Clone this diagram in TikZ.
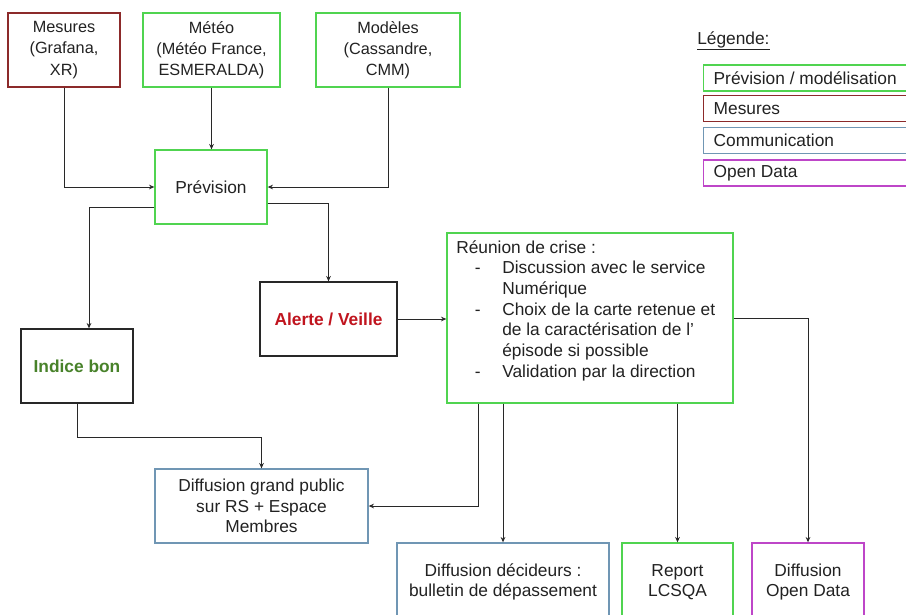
\documentclass[tikz,border=0pt]{standalone}
\usepackage{fontspec}
\setmainfont{Liberation Sans}
\usetikzlibrary{arrows.meta}
\definecolor{grn}{RGB}{80,212,80}
\definecolor{mesred}{RGB}{140,42,42}
\definecolor{comblue}{RGB}{112,150,180}
\definecolor{odpurple}{RGB}{190,70,200}
\definecolor{indgreen}{RGB}{72,130,42}
\definecolor{alred}{RGB}{192,20,30}
\definecolor{txt}{RGB}{34,34,34}
\definecolor{ln}{RGB}{40,40,40}
\newcommand\rli{\makebox[34.5pt][l]{\hspace*{14pt}-}}
\newcommand\rlc{\hspace*{34.5pt}}
\tikzset{
  box/.style={draw, line width=1pt, inner sep=0pt, align=center, text=txt,
    font=\fontsize{13}{15.5}\selectfont},
  topbox/.style={box, font=\fontsize{12.2}{15.9}\selectfont},
  legbox/.style={draw, line width=1pt, anchor=west, inner xsep=7.5pt,
    inner ysep=0pt, minimum height=19.5pt, text=txt,
    font=\fontsize{13}{15.5}\selectfont},
  arr/.style={draw=ln, line width=0.75pt, -{Stealth[length=4pt,width=3.5pt]}},
}
\begin{document}
\begin{tikzpicture}[x=0.75pt,y=-0.75pt]
\useasboundingbox (0,0) rectangle (906,614);
\fill[white] (0,0) rectangle (906,614);
\clip (0,0) rectangle (906,614);

% top boxes
\node[topbox, draw=mesred, minimum width=84pt, minimum height=55.5pt] (mes) at (64,50) {Mesures\\(Grafana,\\XR)};
\node[topbox, draw=grn, minimum width=102.75pt, minimum height=55.5pt] (met) at (211.5,50) {Météo\\(Météo France,\\ESMERALDA)};
\node[topbox, draw=grn, minimum width=108pt, minimum height=55.5pt] (mod) at (388,50) {Modèles\\(Cassandre,\\CMM)};

\node[box, draw=grn, minimum width=84pt, minimum height=55.5pt] (prev) at (211,187) {Prévision};

\node[box, draw=ln, minimum width=84pt, minimum height=55.5pt, font=\fontsize{13}{15.5}\selectfont\bfseries, text=indgreen] (ind) at (77,366) {Indice bon};
\node[box, draw=ln, minimum width=102.75pt, minimum height=55.5pt, font=\fontsize{13}{15.5}\selectfont\bfseries, text=alred] (al) at (328.5,319) {Alerte / Veille};

\node[box, draw=grn, minimum width=214.5pt, minimum height=127.5pt] (reu) at (590,318) {};
\node[anchor=north west, inner sep=0pt, align=left, text=txt,
      font=\fontsize{13}{15.5}\selectfont] (reutxt) at (456,240)
 {Réunion de crise :\\
 \rli Discussion avec le service\\
 \rlc Numérique\\
 \rli Choix de la carte retenue et\\
 \rlc de la caractérisation de l’\\
 \rlc épisode si possible\\
 \rli Validation par la direction};

\node[box, draw=comblue, minimum width=159.75pt, minimum height=55.5pt] (dgp) at (261.5,506) {Diffusion grand public\\sur RS + Espace\\Membres};

\node[box, draw=comblue, minimum width=159pt, minimum height=58.5pt] (dec) at (503,582) {Diffusion décideurs :\\bulletin de dépassement};
\node[box, draw=grn, minimum width=83.25pt, minimum height=58.5pt] (rep) at (677.5,582) {Report\\LCSQA};
\node[box, draw=odpurple, minimum width=84pt, minimum height=58.5pt] (od) at (808,582) {Diffusion\\Open Data};

% legend
\node[anchor=west, text=txt, font=\fontsize{13}{15.5}\selectfont, inner sep=0pt] (leg) at (697,41) {\underline{Légende:}};
\node[legbox, draw=grn] (lg1) at (703,78) {\makebox[180pt][l]{Prévision / modélisation}};
\node[legbox, draw=mesred] (lg2) at (703,108.5) {\makebox[180pt][l]{Mesures}};
\node[legbox, draw=comblue] (lg3) at (703,140.5) {\makebox[180pt][l]{Communication}};
\node[legbox, draw=odpurple] (lg4) at (703,173) {\makebox[180pt][l]{Open Data}};

% connectors
\draw[arr] (mes.south) |- (prev.west);
\draw[arr] (met.south) -- (met.south |- prev.north);
\draw[arr] (mod.south) |- (prev.east);
\draw[arr] ([yshift=-15pt]prev.west) -| ([xshift=9pt]ind.north);
\draw[arr] ([yshift=-12pt]prev.east) -| (al.north);
\draw[arr] (al.east) -- (al.east -| reu.west);
\draw[arr] (ind.south) -- ++(0,34) -| (dgp.north);
\draw[arr] ([xshift=24pt]reu.south west) |- (dgp.east);
\draw[arr] (reu.south -| dec.north) -- (dec.north);
\draw[arr] (reu.south -| rep.north) -- (rep.north);
\draw[arr] (reu.east) -| (od.north);
\end{tikzpicture}
\end{document}
